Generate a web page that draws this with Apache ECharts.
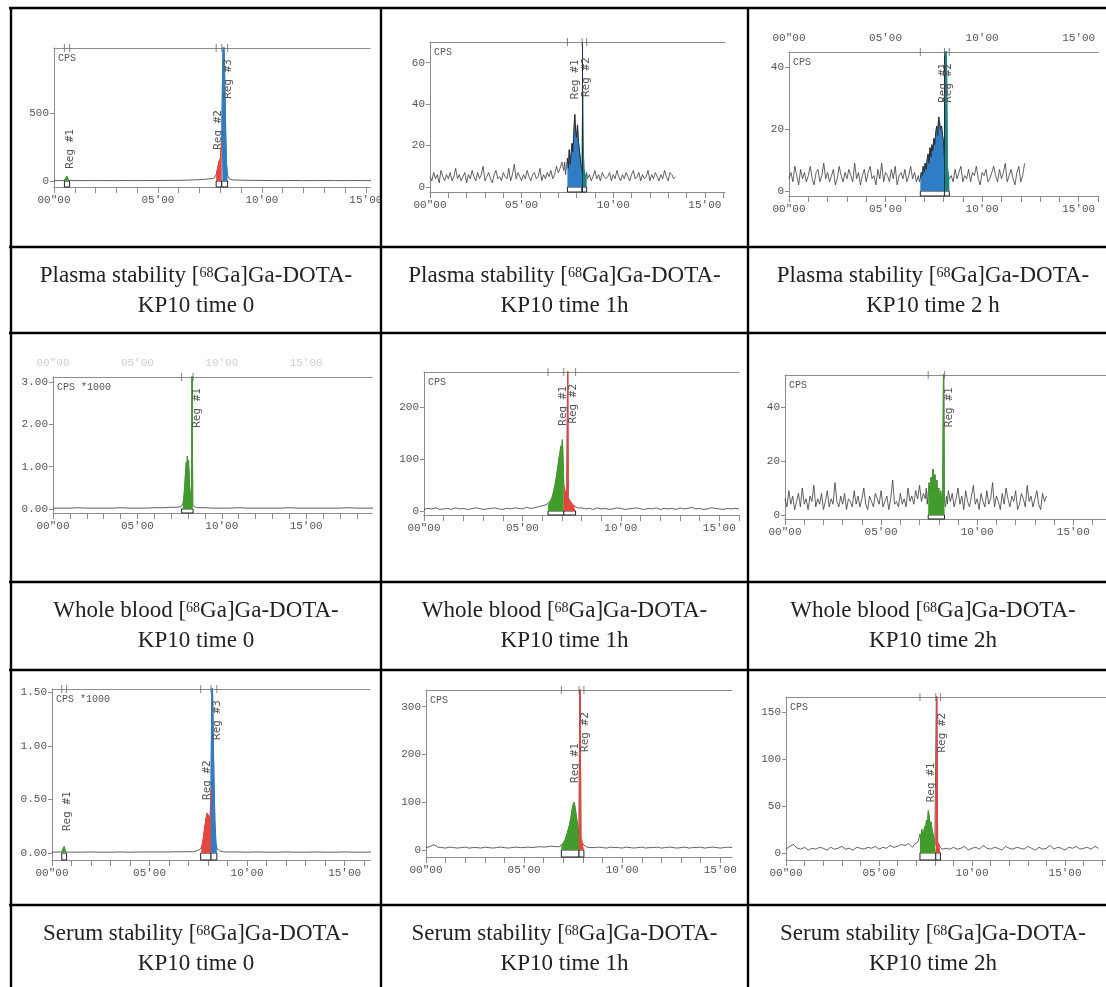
<!DOCTYPE html>
<html>
<head>
<meta charset="utf-8">
<script src="https://cdn.jsdelivr.net/npm/echarts@6.0.0/dist/echarts.min.js"></script>
<style>
  html, body { margin: 0; padding: 0; background: #fff; }
  #main { width: 1106px; height: 987px; }
</style>
</head>
<body>
<div id="main"></div>
<script>
// radio-HPLC traces (CPS vs minutes)

// tick values shared by all panels
var minuteTicks = [0, 1, 2, 3, 4, 5, 6, 7, 8, 9, 10, 11, 12, 13, 14, 15, 16, 17, 18];
var labelTicks = [0, 5, 10, 15];

// captions
var rowNames = ['Plasma stability', 'Whole blood', 'Serum stability'];
var timeNames = [['time 0', 'time 1h', 'time 2 h'], ['time 0', 'time 1h', 'time 2h'], ['time 0', 'time 1h', 'time 2h']];

// --- plasma, time 0
var p1Early = [3, 4, 3, 3, 4, 3, 3, 4, 3, 4, 4, 5, 5, 7, 10];           // 0.0-7.0 min, every 0.5
var p1Late = [6, 5, 4, 4, 3, 4, 3, 3, 4, 3, 3, 4, 3, 3];                 // 9.0-15.5 min
var p1Spike = [[0.55, 4], [0.62, 35], [0.7, 4]];
var p1Peak = [[7.5, 16], [7.6, 18], [7.7, 22], [7.75, 30], [7.8, 45], [7.85, 80], [7.9, 120], [7.95, 150],
  [8.0, 165], [8.04, 175], [8.07, 300], [8.1, 700], [8.14, 1050], [8.18, 1000], [8.22, 700], [8.26, 350],
  [8.3, 120], [8.35, 40], [8.45, 15], [8.6, 8], [8.8, 7]];
var p1Regions = [[0.5, 0.75], [7.8, 8.07], [8.07, 8.35]];
var p1YTicks = [0, 500];

// --- plasma, 1 h
var p2Early = [5, 3, 7, 4, 6, 2, 8, 5, 3, 6, 4, 7, 3, 5, 9, 4, 6, 3, 5, 7, 2, 6, 4, 8, 5, 3, 7, 4, 6, 10,
  3, 5, 7, 4, 2, 6, 8, 4, 5, 3, 7, 5, 4, 9, 3, 6, 11, 4, 7, 5, 3, 6, 4, 8, 5, 3, 6, 7, 4, 5,
  9, 3, 6, 4, 7, 5, 8, 4, 6, 10, 7, 9, 12];                               // 0.0-7.2 min, every 0.1
var p2Late = [6, 3, 5, 8, 4, 6, 3, 7, 5, 4, 5, 7, 3, 6, 4, 8, 5, 3, 6, 4, 7, 5, 3, 6, 8, 4, 5, 7, 3, 6,
  4, 5, 8, 3, 6, 4, 7, 5, 3, 6, 4, 8, 5, 3, 7, 6, 4, 5];                  // 8.7-13.4 min
var p2Peak = [[7.3, 8], [7.35, 12], [7.4, 6], [7.45, 10], [7.5, 14], [7.55, 9], [7.6, 18], [7.65, 11],
  [7.7, 16], [7.75, 21], [7.8, 17], [7.85, 26], [7.9, 35], [7.95, 27], [8.0, 24], [8.05, 30], [8.1, 22],
  [8.15, 18], [8.2, 14], [8.25, 10], [8.3, 7], [8.33, 46], [8.36, 20], [8.4, 9], [8.45, 6], [8.5, 5],
  [8.55, 7], [8.6, 4]];
var p2Regions = [[7.5, 8.3], [8.3, 8.55]];
var p2YTicks = [0, 20, 40, 60];

// --- plasma, 2 h
var p3Early = [4, 6, 3, 8, 5, 2, 7, 4, 6, 3, 5, 8, 4, 2, 6, 7, 3, 5, 9, 4, 6, 3, 5, 7, 2, 4, 8, 5, 3, 6,
  4, 7, 5, 3, 9, 4, 6, 2, 5, 7, 3, 6, 8, 4, 5, 2, 7, 4, 9, 3, 6, 5, 3, 7, 4, 8, 2, 5, 6, 4,
  7, 3, 5, 8, 4, 6, 3];                                                   // 0.0-6.6 min, every 0.1
var p3Late = [5, 3, 7, 4, 6, 8, 3, 5, 4, 7, 3, 6, 5, 8, 4, 2, 6, 5, 7, 3, 4, 6, 8, 5, 3, 7, 4, 6, 9, 3,
  5, 7, 4, 2, 6, 8, 3, 5, 9];                                             // 8.4-12.2 min
var p3Peak = [[6.7, 5], [6.75, 3], [6.8, 4], [6.85, 6], [6.9, 5], [6.95, 8], [7.0, 6], [7.05, 9], [7.1, 7],
  [7.15, 10], [7.2, 12], [7.25, 9], [7.3, 14], [7.35, 11], [7.4, 15], [7.45, 13], [7.5, 17], [7.55, 15],
  [7.6, 19], [7.65, 21], [7.7, 18], [7.75, 24], [7.8, 22], [7.85, 20], [7.9, 21], [7.95, 18], [8.0, 16],
  [8.05, 10], [8.1, 60], [8.15, 50], [8.2, 8], [8.25, 5], [8.3, 4]];
var p3Regions = [[6.8, 8.05], [8.05, 8.3]];
var p3YTicks = [0, 20, 40];

// --- whole blood, time 0 (CPS *1000)
var p4Early = [0.02, 0.02, 0.02, 0.03, 0.02, 0.02, 0.02, 0.02, 0.03, 0.02, 0.02, 0.02, 0.03, 0.03, 0.04];
var p4Late = [0.03, 0.02, 0.02, 0.02, 0.03, 0.02, 0.02, 0.02, 0.02, 0.02, 0.03, 0.02, 0.02, 0.02, 0.02,
  0.02, 0.02, 0.03, 0.02, 0.02, 0.02];                                    // 9.0-19.0 min
var p4Peak = [[7.4, 0.04], [7.5, 0.05], [7.6, 0.07], [7.7, 0.12], [7.75, 0.25], [7.8, 0.5], [7.85, 0.85],
  [7.9, 1.1], [7.93, 0.95], [7.96, 1.25], [8.0, 1.05], [8.03, 1.15], [8.07, 0.75], [8.1, 0.5], [8.15, 0.3],
  [8.2, 0.15], [8.24, 3.4], [8.28, 0.08], [8.35, 0.05], [8.5, 0.03]];
var p4Regions = [[7.62, 8.3]];
var p4YTicks = [0, 1, 2, 3];

// --- whole blood, 1 h
var p5Early = [3, 5, 4, 6, 3, 4, 5, 3, 6, 4, 5, 3, 4, 6, 5, 3, 4, 5, 6, 4, 3, 5, 4, 6, 5, 4, 7, 5, 6, 8];
var p5Late = [6, 4, 5, 3, 6, 4, 5, 3, 4, 6, 5, 3, 4, 5, 6, 4, 3, 5, 4, 6, 3, 5, 4, 5, 3, 6, 4, 5, 7, 4,
  5, 3, 4, 6, 5, 4, 3, 5, 4, 5, 4];                                       // 8.0-16.0 min, every 0.2
var p5Peak = [[5.9, 6], [6.0, 10], [6.1, 8], [6.2, 12], [6.3, 10], [6.4, 18], [6.5, 25], [6.6, 40],
  [6.7, 60], [6.8, 85], [6.85, 100], [6.9, 110], [6.95, 125], [7.0, 120], [7.03, 137], [7.07, 90],
  [7.1, 50], [7.15, 40], [7.2, 35], [7.25, 30], [7.3, 300], [7.33, 25], [7.4, 20], [7.5, 15], [7.6, 10],
  [7.7, 8], [7.8, 6], [7.9, 5]];
var p5Regions = [[6.3, 7.1], [7.1, 7.7]];
var p5YTicks = [0, 100, 200];

// --- whole blood, 2 h
var p6Early = [6, 3, 9, 4, 7, 2, 5, 8, 3, 10, 4, 6, 2, 7, 5, 11, 3, 6, 4, 8, 2, 5, 9, 3, 6, 4, 12, 5, 3, 7,
  4, 8, 2, 6, 5, 3, 9, 4, 7, 3, 6, 10, 4, 2, 7, 5, 3, 8, 6, 4, 9, 3, 5, 7, 2, 6, 13, 4, 5, 3,
  8, 4, 6, 3, 10, 5, 7, 4, 9, 6, 11, 5, 8];                               // 0.0-7.2 min, every 0.1
var p6Late = [5, 8, 3, 6, 10, 4, 7, 2, 9, 5, 3, 7, 11, 4, 6, 2, 8, 5, 3, 9, 4, 6, 12, 3, 7, 5, 2, 8, 4, 10,
  6, 3, 7, 5, 9, 2, 4, 8, 6, 3, 11, 5, 7, 3, 6, 9, 4, 2, 8, 5, 7];        // 8.6-13.6 min
var p6Peak = [[7.3, 6], [7.35, 10], [7.4, 4], [7.45, 8], [7.5, 12], [7.55, 6], [7.6, 14], [7.65, 9],
  [7.7, 17], [7.75, 11], [7.8, 15], [7.85, 8], [7.9, 13], [7.95, 7], [8.0, 10], [8.05, 5], [8.1, 9],
  [8.15, 6], [8.2, 4], [8.25, 60], [8.3, 5], [8.35, 3], [8.4, 7], [8.45, 4], [8.5, 9]];
var p6Regions = [[7.45, 8.3]];
var p6YTicks = [0, 20, 40];

// --- serum, time 0 (CPS *1000)
var p7Early = [0.008, 0.01, 0.008, 0.008, 0.01, 0.008, 0.008, 0.01, 0.008, 0.01, 0.01, 0.01, 0.01, 0.012, 0.012];
var p7Late = [0.01, 0.01, 0.008, 0.01, 0.008, 0.008, 0.01, 0.008, 0.008, 0.01, 0.008, 0.008, 0.01, 0.008,
  0.008, 0.01];                                                           // 9.0-16.5 min, every 0.5
var p7Spike = [[0.55, 0.01], [0.62, 0.06], [0.7, 0.01]];
var p7Peak = [[7.2, 0.012], [7.4, 0.02], [7.55, 0.03], [7.65, 0.05], [7.7, 0.08], [7.75, 0.13], [7.8, 0.2],
  [7.85, 0.27], [7.9, 0.33], [7.95, 0.37], [8.0, 0.38], [8.05, 0.34], [8.1, 0.3], [8.15, 0.6], [8.18, 1.3],
  [8.21, 1.7], [8.25, 1.3], [8.3, 0.7], [8.35, 0.3], [8.4, 0.1], [8.45, 0.04], [8.6, 0.02], [8.8, 0.01]];
var p7Regions = [[0.5, 0.75], [7.62, 8.15], [8.15, 8.45]];
var p7YTicks = [0, 0.5, 1, 1.5];

// --- serum, 1 h
var p8Early = [5, 7, 11, 6, 5, 4, 6, 5, 4, 5, 6, 4, 5, 5, 4, 6, 5, 4, 5, 6, 5, 4, 5, 6, 5, 5, 6, 5, 6, 7,
  6, 7, 8, 7];                                                            // 0.0-6.6 min, every 0.2
var p8Late = [6, 5, 4, 6, 5, 5, 4, 6, 5, 4, 5, 6, 4, 5, 5, 6, 4, 5, 6, 5, 4, 5, 6, 4, 5, 5, 6, 4, 5, 6,
  5, 4, 5, 6, 5];                                                         // 8.8-15.6 min
var p8Peak = [[6.8, 7], [6.9, 9], [7.0, 14], [7.1, 22], [7.2, 35], [7.3, 50], [7.4, 70], [7.45, 85],
  [7.5, 95], [7.55, 100], [7.6, 90], [7.65, 75], [7.7, 60], [7.75, 45], [7.8, 30], [7.85, 400], [7.9, 25],
  [7.95, 18], [8.0, 12], [8.05, 10], [8.1, 8], [8.2, 6], [8.4, 5], [8.6, 5]];
var p8Regions = [[6.9, 7.8], [7.8, 8.05]];
var p8YTicks = [0, 100, 200, 300];

// --- serum, 2 h
var p9Early = [4, 7, 9, 5, 4, 6, 3, 5, 4, 6, 5, 3, 6, 4, 5, 7, 4, 5, 3, 6, 5, 4, 6, 5, 7, 4, 6, 5, 8, 6,
  7, 9, 8, 10];                                                           // 0.0-6.6 min, every 0.2
var p9Late = [6, 4, 5, 7, 3, 5, 6, 4, 8, 5, 4, 6, 5, 3, 7, 5, 4, 6, 5, 4, 7, 5, 3, 6, 4, 5, 8, 4, 6, 5,
  3, 6, 5, 7, 4, 5, 6, 4, 7, 5];                                          // 9.0-16.8 min
var p9Peak = [[6.8, 6], [6.9, 9], [7.0, 7], [7.1, 12], [7.2, 20], [7.25, 15], [7.3, 25], [7.35, 18],
  [7.4, 22], [7.45, 28], [7.5, 25], [7.55, 35], [7.6, 30], [7.65, 45], [7.7, 38], [7.75, 30], [7.8, 33],
  [7.85, 25], [7.9, 20], [7.95, 15], [8.0, 10], [8.05, 8], [8.1, 200], [8.15, 12], [8.2, 10], [8.25, 7],
  [8.3, 6], [8.4, 4], [8.6, 5], [8.8, 4]];
var p9Regions = [[7.2, 8.05], [8.05, 8.3]];
var p9YTicks = [0, 50, 100, 150];

var colorOf = { red: '#e4463d', blue: '#2e7dc5', green: '#419c2c', teal: '#15897a' };

// one entry per table cell, row by row
var panels = [
  { grid: [54, 48, 316, 139], xMax: 15.2, yMin: -44, yMax: 980, yTicks: p1YTicks, dec: 0, unit: 'CPS',
    segs: [[0, 0.5, p1Early], [9, 0.5, p1Late]], peaks: [p1Spike, p1Peak], regions: p1Regions,
    colors: ['green', 'red', 'blue'], regLabels: [[0.8, 236], [7.9, 376], [8.4, 752]], top: 'none' },
  { grid: [430, 42, 295, 150], xMax: 16.1, yMin: -2.4, yMax: 70, yTicks: p2YTicks, dec: 0, unit: 'CPS',
    segs: [[0, 0.1, p2Early], [8.7, 0.1, p2Late]], peaks: [p2Peak], regions: p2Regions,
    colors: ['blue', 'teal'], outline: ['#2a2a2a', null], divider: true,
    regLabels: [[7.9, 52], [8.5, 53]], top: 'none' },
  { grid: [789, 52, 309, 144], xMax: 16, yMin: -1.6, yMax: 45, yTicks: p3YTicks, dec: 0, unit: 'CPS',
    segs: [[0, 0.1, p3Early], [8.4, 0.1, p3Late]], peaks: [p3Peak], regions: p3Regions,
    colors: ['blue', 'teal'], outline: ['#2a2a2a', null], divider: true,
    regLabels: [[7.98, 35], [8.22, 35]], top: 'dark' },
  { grid: [53, 377, 319, 136], xMax: 18.9, yMin: -0.095, yMax: 3.12, yTicks: p4YTicks, dec: 2, unit: 'CPS *1000',
    segs: [[0, 0.5, p4Early], [9, 0.5, p4Late]], peaks: [p4Peak], regions: p4Regions,
    colors: ['green'], regLabels: [[8.55, 2.39]], top: 'faint' },
  { grid: [424, 372, 315, 143], xMax: 16, yMin: -7.7, yMax: 267, yTicks: p5YTicks, dec: 0, unit: 'CPS',
    segs: [[0, 0.2, p5Early], [8, 0.2, p5Late]], peaks: [p5Peak], regions: p5Regions,
    colors: ['green', 'red'], regLabels: [[7.06, 202], [7.57, 206]], top: 'none' },
  { grid: [785, 375, 340, 144], xMax: 16.7, yMin: -1.5, yMax: 52, yTicks: p6YTicks, dec: 0, unit: 'CPS',
    segs: [[0, 0.1, p6Early], [8.6, 0.1, p6Late]], peaks: [p6Peak], regions: p6Regions,
    colors: ['green'], regLabels: [[8.55, 40]], top: 'none' },
  { grid: [52, 689, 318, 171], xMax: 16.3, yMin: -0.065, yMax: 1.53, yTicks: p7YTicks, dec: 2, unit: 'CPS *1000',
    segs: [[0, 0.5, p7Early], [9, 0.5, p7Late]], peaks: [p7Spike, p7Peak], regions: p7Regions,
    colors: ['green', 'red', 'blue'], regLabels: [[0.8, 0.39], [7.95, 0.68], [8.45, 1.24]], top: 'none' },
  { grid: [426, 690, 306, 167], xMax: 15.6, yMin: -14.7, yMax: 335, yTicks: p8YTicks, dec: 0, unit: 'CPS',
    segs: [[0, 0.2, p8Early], [8.8, 0.2, p8Late]], peaks: [p8Peak], regions: p8Regions,
    colors: ['green', 'red'], regLabels: [[7.6, 182], [8.1, 247]], top: 'none' },
  { grid: [786, 697, 340, 163], xMax: 17.2, yMin: -7.5, yMax: 166, yTicks: p9YTicks, dec: 0, unit: 'CPS',
    segs: [[0, 0.2, p9Early], [9, 0.2, p9Late]], peaks: [p9Peak], regions: p9Regions,
    colors: ['green', 'red'], regLabels: [[7.8, 75], [8.4, 128]], top: 'none' }
];

// table layout
var colX = [11, 381, 748, 1118];
var rowY = [8, 247, 333, 582, 670, 905, 991];
var axisGray = '#8c8c8c';
var tickFont = 'Liberation Mono';

function fmtTime(v) {
  if (v === 0) return '00"00';
  return (v < 10 ? '0' + v : '' + v) + "'00";
}

function buildCurve(p) {
  var pts = [];
  p.segs.forEach(function (s) {
    s[2].forEach(function (v, i) { pts.push([+(s[0] + i * s[1]).toFixed(2), v]); });
  });
  p.peaks.forEach(function (pk) { pk.forEach(function (d) { pts.push(d); }); });
  pts.sort(function (a, b) { return a[0] - b[0]; });
  return pts;
}

var chart = echarts.init(document.getElementById('main'));
var grids = [], xAxes = [], yAxes = [], series = [], graphics = [];

panels.forEach(function (p, i) {
  var g = p.grid;
  grids.push({ left: g[0], top: g[1], width: g[2], height: g[3], show: false });
  var mt = minuteTicks.filter(function (v) { return v <= p.xMax; });
  var lt = labelTicks.filter(function (v) { return v <= p.xMax; });

  xAxes.push({
    gridIndex: i, type: 'value', position: 'bottom', min: 0, max: p.xMax,
    axisLine: { show: true, onZero: false, lineStyle: { color: axisGray, width: 1 } },
    axisTick: { show: true, customValues: mt, length: 6, lineStyle: { color: axisGray } },
    axisLabel: { customValues: lt, formatter: fmtTime, fontFamily: tickFont, fontSize: 11, color: '#555', margin: 8 },
    splitLine: { show: false }
  });
  xAxes.push({
    gridIndex: i, type: 'value', position: 'top', min: 0, max: p.xMax,
    axisLine: { show: true, onZero: false, lineStyle: { color: axisGray, width: 1 } },
    axisTick: { show: false },
    axisLabel: {
      show: p.top !== 'none', customValues: lt, formatter: fmtTime, fontFamily: tickFont, fontSize: 11,
      color: p.top === 'faint' ? '#cfcfcf' : '#555', margin: 8
    },
    splitLine: { show: false }
  });
  yAxes.push({
    gridIndex: i, type: 'value', min: p.yMin, max: p.yMax,
    axisLine: { show: true, onZero: false, lineStyle: { color: axisGray, width: 1 } },
    axisTick: { show: true, customValues: p.yTicks, length: 4, lineStyle: { color: axisGray } },
    axisLabel: {
      customValues: p.yTicks, fontFamily: tickFont, fontSize: 11, color: '#555', margin: 5,
      formatter: function (v) { return v.toFixed(p.dec); }
    },
    splitLine: { show: false }
  });

  var pts = buildCurve(p);
  var main = {
    type: 'line', xAxisIndex: 2 * i, yAxisIndex: i, data: pts, symbol: 'none', silent: true,
    lineStyle: { color: '#3a3a3a', width: 0.8 }, z: 3, clip: true,
    markArea: {
      silent: true,
      itemStyle: { color: '#fff', borderColor: '#222', borderWidth: 1 },
      data: p.regions.map(function (r) { return [{ xAxis: r[0], yAxis: p.yMin }, { xAxis: r[1], yAxis: 0 }]; })
    }
  };
  if (p.divider) {
    main.markLine = {
      silent: true, symbol: 'none', label: { show: false },
      lineStyle: { color: '#1f2a44', width: 1, type: 'solid' },
      data: [{ xAxis: p.regions[0][1] }]
    };
  }
  series.push(main);

  p.regions.forEach(function (r, k) {
    var c = colorOf[p.colors[k]];
    var lineC = (p.outline && p.outline[k]) || c;
    series.push({
      type: 'line', xAxisIndex: 2 * i, yAxisIndex: i, symbol: 'none', silent: true, clip: true,
      data: pts.filter(function (d) { return d[0] >= r[0] - 1e-9 && d[0] <= r[1] + 1e-9; }),
      lineStyle: { color: lineC, width: 0.9 }, areaStyle: { color: c, opacity: 1 }, z: 4
    });
  });

  // region boundary marks on the top frame
  var bounds = [];
  p.regions.forEach(function (r) {
    [r[0], r[1]].forEach(function (b) { if (bounds.indexOf(b) < 0) bounds.push(b); });
  });
  series.push({
    type: 'scatter', xAxisIndex: 2 * i, yAxisIndex: i, silent: true, clip: false,
    data: bounds.map(function (b) { return [b, p.yMax]; }),
    symbol: 'rect', symbolSize: [1, 8], itemStyle: { color: '#666' }, z: 5
  });

  // rotated "Reg #n" names
  series.push({
    type: 'scatter', xAxisIndex: 2 * i, yAxisIndex: i, silent: true, clip: false,
    data: p.regLabels.map(function (q, k) { return { name: 'Reg #' + (k + 1), value: q }; }),
    symbolSize: 1, itemStyle: { color: 'rgba(0,0,0,0)' }, z: 6,
    label: {
      show: true, position: 'inside', rotate: 90, formatter: '{b}',
      fontFamily: 'DejaVu Sans Mono', fontSize: 11, color: '#555', opacity: 1
    }
  });

  graphics.push({
    type: 'text', x: g[0] + 4, y: g[1] + 5, z: 50,
    style: { text: p.unit, font: '10px "Liberation Mono"', fill: '#555' }
  });
});

// captions
for (var r = 0; r < 3; r++) {
  for (var c = 0; c < 3; c++) {
    var cx = (colX[c] + colX[c + 1]) / 2;
    graphics.push({
      type: 'text', x: cx, y: rowY[2 * r + 1] + 14, z: 50,
      style: {
        text: '{n|' + rowNames[r] + ' [}{s|68}{n|Ga]Ga-DOTA-}\n{n|KP10 ' + timeNames[r][c] + '}',
        align: 'center', verticalAlign: 'top',
        rich: {
          n: { fontFamily: 'Liberation Serif', fontSize: 23, lineHeight: 30, fill: '#222' },
          s: { fontFamily: 'Liberation Serif', fontSize: 14, lineHeight: 30, fill: '#222', verticalAlign: 'top', padding: [5, 0, 0, 0] }
        }
      }
    });
  }
}

// table rules
rowY.forEach(function (y) {
  graphics.push({ type: 'line', z: 100, shape: { x1: 9, y1: y, x2: 1120, y2: y }, style: { stroke: '#000', lineWidth: 2.6 } });
});
colX.forEach(function (x) {
  graphics.push({ type: 'line', z: 100, shape: { x1: x, y1: 7, x2: x, y2: 992 }, style: { stroke: '#000', lineWidth: 2.4 } });
});

chart.setOption({
  animation: false,
  backgroundColor: '#fff',
  grid: grids,
  xAxis: xAxes,
  yAxis: yAxes,
  series: series,
  graphic: graphics
});
</script>
</body>
</html>
